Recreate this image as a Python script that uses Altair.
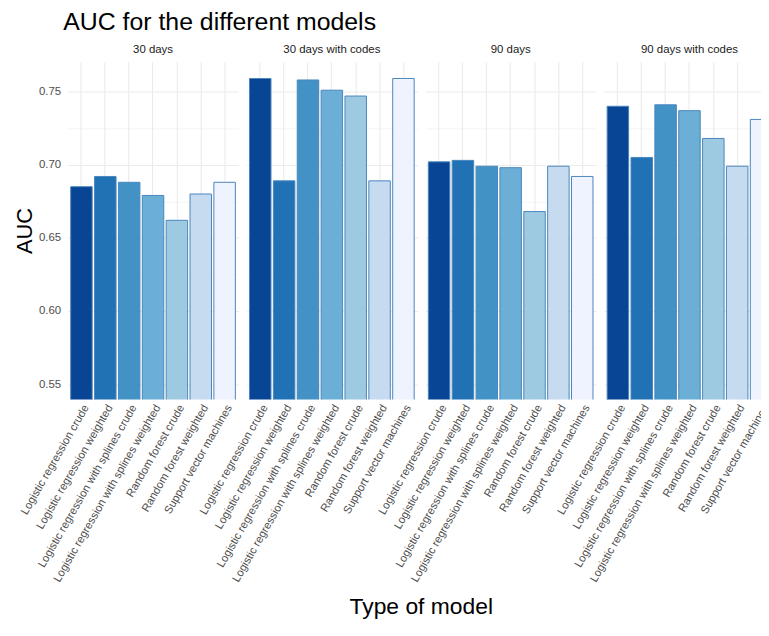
import altair as alt
import pandas as pd

periods = ["30 days", "30 days with codes", "90 days", "90 days with codes"]
models = [
    "Logistic regression crude",
    "Logistic regression weighted",
    "Logistic regression with splines crude",
    "Logistic regression with splines weighted",
    "Random forest crude",
    "Random forest weighted",
    "Support vector machines",
]
auc_30 = [0.685, 0.692, 0.688, 0.679, 0.662, 0.680, 0.688]
auc_30_codes = [0.759, 0.689, 0.758, 0.751, 0.747, 0.689, 0.759]
auc_90 = [0.702, 0.703, 0.699, 0.698, 0.668, 0.699, 0.692]
auc_90_codes = [0.740, 0.705, 0.741, 0.737, 0.718, 0.699, 0.731]
bar_colors = ["#084594", "#2171b5", "#4292c6", "#6baed6", "#9ecae1", "#c6dbef", "#eff3ff"]
y_ticks = [0.55, 0.575, 0.60, 0.625, 0.65, 0.675, 0.70, 0.725, 0.75]

rows = []
for period, vals in zip(periods, [auc_30, auc_30_codes, auc_90, auc_90_codes]):
    for m, v in zip(models, vals):
        rows.append({"period": period, "model": m, "auc": v})
df = pd.DataFrame(rows)

major_test = "abs(datum.value*20 - round(datum.value*20)) < 0.01"

bars = alt.Chart(df).mark_bar(clip=True, stroke="#4a86bd", strokeWidth=1).encode(
    x=alt.X(
        "model:N",
        sort=models,
        title=None,
        scale=alt.Scale(paddingInner=0.1, paddingOuter=0.13),
        axis=alt.Axis(
            labelAngle=-60, labelAlign="right", labelBaseline="top",
            labelColor="#4d4d4d", labelFontSize=11.3, labelPadding=3, labelLimit=400,
            ticks=False, domain=False, grid=True, gridColor="#ebebeb", gridWidth=1.1,
        ),
    ),
    y=alt.Y(
        "auc:Q",
        scale=alt.Scale(domain=[0.5395, 0.7705], zero=False, nice=False),
        axis=alt.Axis(
            values=y_ticks,
            labelExpr=f"{major_test} ? format(datum.value, '.2f') : ''",
            title="AUC", titleFontSize=22, titleFontWeight="normal", titleColor="#000000",
            titlePadding=2,
            ticks=False, domain=False, gridColor="#ebebeb",
            gridWidth={"condition": {"test": major_test, "value": 1.1}, "value": 0.5},
            labelColor="#4d4d4d", labelFontSize=11.5, labelPadding=7,
        ),
    ),
    color=alt.Color("model:N", scale=alt.Scale(domain=models, range=bar_colors), legend=None),
).properties(width=172, height=340)

chart = bars.facet(
    column=alt.Column(
        "period:N",
        sort=periods,
        title="Type of model",
        header=alt.Header(
            labelOrient="top", titleOrient="bottom",
            labelFontSize=11.5, labelColor="#1a1a1a", labelPadding=6,
            titleFontSize=23, titleFontWeight="normal", titleColor="#000000", titlePadding=2,
        ),
    ),
    spacing=8,
).properties(
    title=alt.TitleParams(
        "AUC for the different models", anchor="start", fontSize=25,
        fontWeight="normal", color="#000000", dx=50, offset=9,
    ),
    padding={"left": 5, "top": 0, "right": -14, "bottom": 0},
).configure(
    font="Liberation Sans",
).configure_view(stroke=None)

chart.save("out.html", embed_options={"renderer": "svg", "actions": False})
